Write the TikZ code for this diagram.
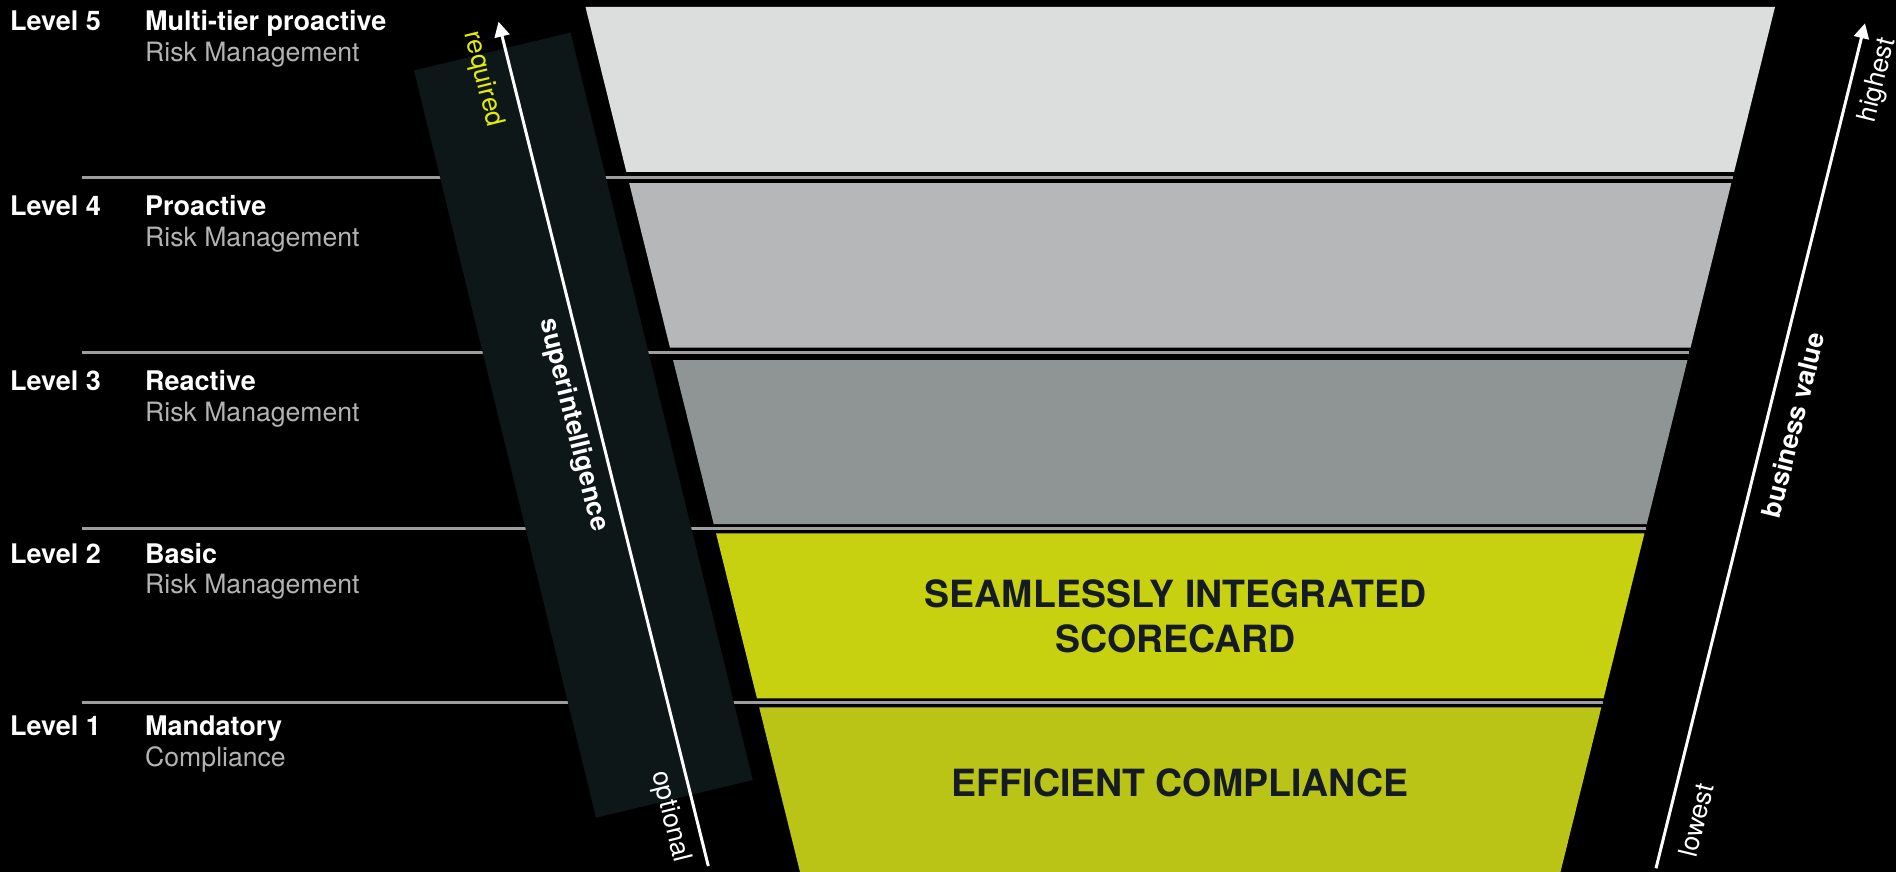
\documentclass[tikz,border=0pt]{standalone}
\usepackage{fontspec}
\setmainfont{TeX Gyre Heros}
\usetikzlibrary{arrows.meta}
\definecolor{bandfive}{HTML}{DCDEDD}
\definecolor{bandfour}{HTML}{B6B7B9}
\definecolor{bandthree}{HTML}{8F9494}
\definecolor{bandtwo}{HTML}{C7D110}
\definecolor{bandone}{HTML}{B9C417}
\definecolor{sibar}{HTML}{0E1718}
\definecolor{divider}{HTML}{9E9E9E}
\definecolor{subgray}{HTML}{B3B3B3}
\definecolor{reqyellow}{HTML}{E4EC00}
\definecolor{funneltext}{HTML}{151B22}
\begin{document}
\begin{tikzpicture}[x=1pt,y=-1pt,
  lvl/.style={anchor=base west, inner sep=0pt, text=white, font=\fontsize{27}{30}\selectfont\bfseries},
  lvltitle/.style={anchor=base west, inner sep=0pt, text=white, font=\fontsize{27}{30}\selectfont\bfseries},
  lvlsub/.style={anchor=base west, inner sep=0pt, text=subgray, font=\fontsize{26.6}{30}\selectfont},
  divline/.style={draw=divider, line width=3pt},
  axisarrow/.style={draw=white, line width=3pt, -{Triangle[length=15pt,width=15pt]}},
  leftlabel/.style={inner sep=0pt, rotate=-76.04, font=\fontsize{26.5}{30}\selectfont},
  rightlabel/.style={inner sep=0pt, rotate=76.1, text=white, font=\fontsize{26.5}{30}\selectfont},
  bandtext/.style={anchor=base, inner sep=0pt, text=funneltext, font=\fontsize{37.5}{45}\selectfont\bfseries}
]
% canvas
\fill[black] (0,0) rectangle (1896,872);
\useasboundingbox (0,0) rectangle (1896,872);

% divider lines
\coordinate (d4a) at (82,178);   \coordinate (d4b) at (1732.6,178);
\coordinate (d3a) at (82,352);   \coordinate (d3b) at (1689.4,352);
\coordinate (d2a) at (82,528);   \coordinate (d2b) at (1645.8,528);
\coordinate (d1a) at (82,702.5); \coordinate (d1b) at (1602.5,702.5);
\draw[divline] (d4a) -- (d4b);
\draw[divline] (d3a) -- (d3b);
\draw[divline] (d2a) -- (d2b);
\draw[divline] (d1a) -- (d1b);

% superintelligence bar
\fill[sibar] (414,70.5) -- (570.5,32.5) -- (752.7,780) -- (596,817.7) -- cycle;

% funnel bands
\fill[bandfive]  (585.5,7) -- (1775,7) -- (1734.1,172) -- (626.4,172) -- cycle;
\fill[bandfour]  (629.15,183) -- (1731.35,183) -- (1690.56,347.5) -- (669.94,347.5) -- cycle;
\fill[bandthree] (673.04,360) -- (1687.46,360) -- (1646.78,524) -- (713.72,524) -- cycle;
\fill[bandtwo]   (716.02,533.3) -- (1644.48,533.3) -- (1603.56,698.3) -- (756.94,698.3) -- cycle;
\fill[bandone]   (759.17,707.3) -- (1601.33,707.3) -- (1560.48,872) -- (800.02,872) -- cycle;

% band texts
\node[bandtext] (seam) at (1175.5,607) {SEAMLESSLY INTEGRATED};
\node[bandtext] (score) at (1175.5,652) {SCORECARD};
\node[bandtext] (effic) at (1180,796.7) {EFFICIENT COMPLIANCE};

% axes
\coordinate (optbot) at (708.3,866);
\coordinate (reqtop) at (498.5,21.7);
\draw[axisarrow] (optbot) -- (reqtop);
\coordinate (lowbot) at (1656,868.3);
\coordinate (hightop) at (1865,23.3);
\draw[axisarrow] (lowbot) -- (hightop);

% axis labels
\node[leftlabel, text=reqyellow] (req) at (483,79) {required};
\node[leftlabel, text=white, font=\fontsize{26.5}{30}\selectfont\bfseries] (superint) at (573.3,425) {superintelligence};
\node[leftlabel, text=white] (opt) at (670,817) {optional};
\node[rightlabel] (high) at (1878,80) {highest};
\node[rightlabel, font=\fontsize{26.5}{30}\selectfont\bfseries] (bval) at (1793,425) {business value};
\node[rightlabel] (low) at (1696,820) {lowest};

% level labels
\node[lvl] (l5) at (10,30.5) {Level 5};
\node[lvltitle] (t5) at (145,30.5) {Multi-tier proactive};
\node[lvlsub] (s5) at (145,61.7) {Risk Management};
\node[lvl] (l4) at (10,215) {Level 4};
\node[lvltitle] (t4) at (145,215) {Proactive};
\node[lvlsub] (s4) at (145,246.7) {Risk Management};
\node[lvl] (l3) at (10,390) {Level 3};
\node[lvltitle] (t3) at (145,390) {Reactive};
\node[lvlsub] (s3) at (145,421.5) {Risk Management};
\node[lvl] (l2) at (10,563.3) {Level 2};
\node[lvltitle] (t2) at (145,563.3) {Basic};
\node[lvlsub] (s2) at (145,593.3) {Risk Management};
\node[lvl] (l1) at (10,735) {Level 1};
\node[lvltitle] (t1) at (145,735) {Mandatory};
\node[lvlsub] (s1) at (145,766.7) {Compliance};
\end{tikzpicture}
\end{document}
